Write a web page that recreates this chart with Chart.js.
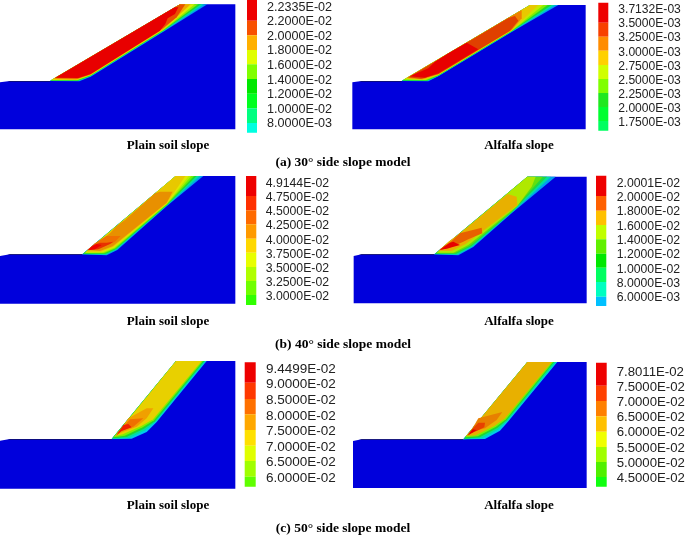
<!DOCTYPE html>
<html>
<head>
<meta charset="utf-8">
<script src="https://cdn.jsdelivr.net/npm/chart.js@4"></script>
<style>
  html, body { margin: 0; padding: 0; background: #fff; }
  #wrap { position: relative; width: 685px; height: 536px; overflow: hidden; }
  canvas { filter: blur(0.45px); }
</style>
</head>
<body>
<div id="wrap"><canvas id="slopes" width="685" height="536"></canvas></div>
<script>
// tick labels of the six colour bars
const a1Labels = ['2.2335E-02', '2.2000E-02', '2.0000E-02', '1.8000E-02', '1.6000E-02', '1.4000E-02', '1.2000E-02', '1.0000E-02', '8.0000E-03'];
const a2Labels = ['3.7132E-03', '3.5000E-03', '3.2500E-03', '3.0000E-03', '2.7500E-03', '2.5000E-03', '2.2500E-03', '2.0000E-03', '1.7500E-03'];
const b1Labels = ['4.9144E-02', '4.7500E-02', '4.5000E-02', '4.2500E-02', '4.0000E-02', '3.7500E-02', '3.5000E-02', '3.2500E-02', '3.0000E-02'];
const b2Labels = ['2.0001E-02', '2.0000E-02', '1.8000E-02', '1.6000E-02', '1.4000E-02', '1.2000E-02', '1.0000E-02', '8.0000E-03', '6.0000E-03'];
const c1Labels = ['9.4499E-02', '9.0000E-02', '8.5000E-02', '8.0000E-02', '7.5000E-02', '7.0000E-02', '6.5000E-02', '6.0000E-02'];
const c2Labels = ['7.8011E-02', '7.5000E-02', '7.0000E-02', '6.5000E-02', '6.0000E-02', '5.5000E-02', '5.0000E-02', '4.5000E-02'];

// colour bar band edges, in page pixels
const a1Edges = [0, 20.7, 35.3, 50, 64.3, 79, 93.7, 108.3, 123, 132.7];
const a2Edges = [2.7, 22.7, 36.7, 50.7, 65, 79, 93, 107, 121, 130.7];
const b1Edges = [176, 196, 210.3, 224.3, 238.7, 252.7, 267, 281, 295, 305];
const b2Edges = [175.7, 196, 210.7, 225, 239.3, 253.7, 267.7, 282, 296.7, 306];
const c1Edges = [362.3, 382.7, 399, 414.3, 430, 445.7, 461, 476.7, 486.7];
const c2Edges = [362.7, 385.7, 401, 416.3, 431.7, 447, 462, 477, 486.7];

const a1Ticks = [7.7, 22, 36.7, 51, 65.7, 80.3, 95, 109.3, 124];
const a2Ticks = [10, 24, 38, 52.3, 66.3, 80.7, 94.7, 108.7, 122.7];
const b1Ticks = [183.3, 197.7, 212, 225.7, 240.3, 254.3, 268.7, 283, 297];
const b2Ticks = [183.3, 197.7, 212, 226.3, 240.7, 255, 269.3, 283.7, 298];
const c1Ticks = [369.3, 384.3, 400, 416, 431.3, 447, 462.7, 478.7];
const c2Ticks = [372, 387, 402.3, 417.7, 432.7, 448, 463.3, 478.3];

const a1Bar = ['#ee0000', '#f85000', '#ffb000', '#e0ff00', '#80ff00', '#00e800', '#00ff20', '#00ff80', '#00ffe0'];
const a2Bar = ['#ee0000', '#f84000', '#ff8c00', '#ffd000', '#d0ff00', '#80ff00', '#20e820', '#00ff30', '#00ff60'];
const b1Bar = ['#ee0000', '#ff3000', '#ff6a00', '#ff9a00', '#ffd800', '#e8ff00', '#b0ff00', '#70ff00', '#30ff00'];
const b2Bar = ['#ee0000', '#ff6000', '#ffc000', '#c0ff00', '#60f000', '#00e800', '#00ff60', '#00ffc0', '#00c0ff'];
const c1Bar = ['#ee0000', '#ff3800', '#ff7000', '#ffa800', '#ffe000', '#e0ff00', '#a0ff00', '#60ff00'];
const c2Bar = ['#ee0000', '#ff4000', '#ff8000', '#ffc000', '#f0ff00', '#a0ff00', '#50f000', '#10ff10'];

// model outlines and contour regions, painted back to front (1 unit = 1/3 page pixel from the panel origin)
const a1Regions = [
  [0, 247, 30, 243, 150, 243, 540, 13, 706, 13, 706, 388, 0, 388],
  [30, 243, 150, 243, 150, 245, 22, 245],
  [150, 243, 238, 244, 272, 230, 490, 95, 622, 13, 540, 13],
  [150, 243, 236, 243, 272, 228.8, 490, 93.5, 612, 13, 540, 13],
  [150, 242, 234, 242, 272, 227.6, 490, 92, 603, 13, 540, 13],
  [152, 241, 232, 241, 272, 226.4, 490, 90.5, 594, 13, 540, 13],
  [155, 240, 230, 240, 272, 225.2, 490, 89, 584, 13, 540, 13],
  [158, 238, 228, 239, 272, 224, 490, 87.5, 572, 13, 540, 13],
  [163, 235, 232, 236, 272, 223, 490, 84, 530, 52, 556, 13, 540, 13],
  [166, 233, 235, 234, 272, 222, 480, 92, 496, 72, 503, 55, 525, 42, 535, 22, 524, 22]
];
const a1Fill = ['#0000dc', '#101060', '#00a0f0', '#00e0a0', '#20d830', '#90f000', '#e0e800', '#f0a800', '#e85000', '#e80000'];

const a2Regions = [
  [22, 247, 50, 243, 170, 243, 555, 15, 722, 15, 722, 388, 22, 388],
  [50, 243, 170, 243, 170, 245, 42, 245],
  [170, 243, 250, 244, 280, 229, 500, 96, 640, 15, 555, 15],
  [170, 243, 248, 243, 280, 228, 500, 95, 630, 15, 555, 15],
  [171, 242, 246, 242, 280, 227, 500, 94, 620, 15, 555, 15],
  [174, 240, 244, 241, 280, 226, 500, 93, 608, 15, 555, 15],
  [177, 238, 240, 240, 280, 225, 500, 92, 595, 15, 555, 15],
  [181, 236, 236, 239, 280, 224, 500, 91, 580, 15, 555, 15],
  [186, 234, 232, 238, 280, 223, 500, 90, 530, 55, 530, 30],
  [190, 232, 228, 236, 280, 222, 495, 92, 520, 62, 510, 48, 490, 54],
  [195, 229, 240, 233, 280, 220, 400, 148, 365, 128, 310, 160, 270, 185, 250, 205, 210, 222]
];
const a2Fill = ['#0000dc', '#101060', '#00a0f0', '#00e0a0', '#20d830', '#80f000', '#c8e800', '#e8c800', '#f08000', '#e04000', '#e80000'];

const b1Regions = [
  [0, 258, 30, 253, 247, 253, 527, 18, 706, 18, 706, 401, 0, 401],
  [30, 253, 247, 253, 247, 255, 22, 255],
  [247, 253, 320, 256, 352, 240, 500, 108.5, 610, 18, 527, 18],
  [247, 253, 318, 254, 350, 238.5, 500, 107, 600, 18, 527, 18],
  [249, 252, 316, 252, 348, 237, 500, 105.5, 590, 18, 527, 18],
  [252, 250, 313, 250, 346, 235.5, 500, 104, 582, 18, 527, 18],
  [255, 249, 310, 248, 344, 234, 500, 102.5, 574, 18, 527, 18],
  [257, 247, 306, 246.5, 342, 232.5, 500, 101, 566, 18, 527, 18],
  [259, 245, 303, 245, 340, 231, 500, 99.5, 556, 18, 527, 18],
  [262, 240, 300, 243, 338, 229, 500, 98, 518, 65, 480, 65, 465, 70, 375, 150, 350, 168, 330, 190, 300, 212],
  [265, 238, 300, 235, 345, 215, 362, 198, 320, 198, 300, 210, 285, 220],
  [262, 241, 295, 238, 330, 222, 340, 215, 320, 218, 300, 218, 280, 225],
  [265, 240, 285, 238, 305, 225, 290, 222, 275, 230]
];
const b1Fill = ['#0000dc', '#101060', '#00a0f0', '#00e0a0', '#20d830', '#70f000', '#b0f000', '#e0e800', '#e8c800', '#e89000', '#f07000', '#e83000', '#f00000'];

const b2Regions = [
  [26, 258, 50, 253, 268, 253, 547, 20, 725, 20, 725, 400, 26, 400],
  [50, 253, 268, 253, 268, 255, 42, 255],
  [268, 253, 340, 256, 385, 231, 500, 130, 632, 20, 547, 20],
  [268, 253, 337, 254, 383, 229.5, 500, 128.5, 618, 20, 547, 20],
  [270, 252, 333, 252, 380, 228, 500, 127, 606, 20, 547, 20],
  [272, 250, 329, 250, 376, 226.5, 500, 125, 594, 20, 547, 20],
  [275, 248, 325, 248, 370, 225, 517, 108, 560, 50, 572, 20, 547, 20],
  [280, 243, 320, 243, 362, 222, 517, 105, 515, 80, 488, 72, 345, 190, 310, 215],
  [285, 238, 310, 235, 355, 215, 370, 208, 412, 190, 410, 173, 345, 190, 320, 213],
  [283, 241, 310, 235, 345, 225, 325, 215, 315, 218, 300, 228]
];
const b2Fill = ['#0000dc', '#101060', '#00a0f0', '#00e0a0', '#20d840', '#60e010', '#b0e800', '#e8b000', '#e86000', '#e80000'];

const c1Regions = [
  [0, 272, 30, 267, 335, 267, 528, 33, 706, 33, 706, 416, 0, 416],
  [30, 267, 335, 267, 335, 269, 22, 269],
  [335, 267, 395, 266, 440, 246, 470, 216, 620, 33, 528, 33],
  [335, 267, 388, 264, 436, 241, 467, 215, 617, 33, 528, 33],
  [337, 265, 380, 261, 432, 236, 465, 214, 613, 33, 528, 33],
  [340, 262, 374, 257, 428, 232, 462, 211, 609, 33, 528, 33],
  [345, 258, 368, 253, 424, 228, 459, 208, 605, 33, 528, 33],
  [350, 255, 370, 245, 410, 230, 440, 205, 460, 175, 440, 175, 385, 205],
  [350, 250, 370, 240, 400, 230, 430, 205, 390, 208, 375, 225],
  [347, 258, 365, 243, 395, 232, 385, 222, 370, 225, 360, 240]
];
const c1Fill = ['#0000dc', '#101060', '#00c8f0', '#00e0a0', '#20d830', '#80f000', '#e8d000', '#f0a000', '#f07000', '#f02000'];

const c2Regions = [
  [24, 273, 50, 268, 355, 268, 547, 36, 725, 36, 725, 414, 24, 414],
  [50, 268, 355, 268, 355, 270, 42, 270],
  [355, 268, 420, 267, 465, 242, 490, 214, 637, 36, 547, 36],
  [355, 268, 412, 265, 461, 238, 487, 213, 634, 36, 547, 36],
  [357, 266, 404, 262, 457, 234, 485, 211, 628, 36, 547, 36],
  [360, 262, 398, 259, 453, 230, 483, 208, 624, 36, 547, 36],
  [363, 258, 392, 256, 449, 227, 480, 205, 620, 36, 547, 36],
  [378, 245, 420, 235, 455, 210, 472, 186, 400, 205, 385, 230],
  [370, 252, 395, 243, 418, 232, 420, 218, 400, 218, 385, 233],
  [367, 257, 385, 247, 395, 240, 383, 238]
];
const c2Fill = ['#0000dc', '#101060', '#00c8f0', '#00e0a0', '#20d830', '#80f000', '#e8b000', '#e88000', '#e84000', '#e80000'];

const panels = [
  { ox: 0, oy: 0, regions: a1Regions, fills: a1Fill, labels: a1Labels, edges: a1Edges, ticks: a1Ticks, bar: a1Bar, barX: [247, 257], textX: 267, size: 12.6 },
  { ox: 345, oy: 0, regions: a2Regions, fills: a2Fill, labels: a2Labels, edges: a2Edges, ticks: a2Ticks, bar: a2Bar, barX: [598.3, 608.3], textX: 618.3, size: 12.1 },
  { ox: 0, oy: 170, regions: b1Regions, fills: b1Fill, labels: b1Labels, edges: b1Edges, ticks: b1Ticks, bar: b1Bar, barX: [246, 256.3], textX: 265.7, size: 12.25 },
  { ox: 345, oy: 170, regions: b2Regions, fills: b2Fill, labels: b2Labels, edges: b2Edges, ticks: b2Ticks, bar: b2Bar, barX: [596, 606.3], textX: 616.7, size: 12.25 },
  { ox: 0, oy: 350, regions: c1Regions, fills: c1Fill, labels: c1Labels, edges: c1Edges, ticks: c1Ticks, bar: c1Bar, barX: [244.7, 255.7], textX: 266, size: 13.5 },
  { ox: 345, oy: 350, regions: c2Regions, fills: c2Fill, labels: c2Labels, edges: c2Edges, ticks: c2Ticks, bar: c2Bar, barX: [596, 606.7], textX: 616.7, size: 13.2 }
];

const slopeNames = ['Plain soil slope', 'Alfalfa slope'];
const slopeNameX = [168, 519];
const slopeNameY = [146, 322, 506];
const captions = ['(a) 30° side slope model', '(b) 40° side slope model', '(c) 50° side slope model'];
const captionY = [163, 345, 529];

function shapeDataset(points, color) {
  return {
    data: points,
    showLine: true,
    fill: 'shape',
    backgroundColor: color,
    borderWidth: 0,
    pointRadius: 0,
    tension: 0
  };
}

const datasets = [];
panels.forEach(p => {
  p.regions.forEach((r, i) => {
    const pts = [];
    for (let k = 0; k < r.length; k += 2) {
      pts.push({ x: p.ox + r[k] / 3, y: p.oy + r[k + 1] / 3 });
    }
    datasets.push(shapeDataset(pts, p.fills[i]));
  });
  p.bar.forEach((c, i) => {
    datasets.push(shapeDataset([
      { x: p.barX[0], y: p.edges[i] },
      { x: p.barX[1], y: p.edges[i] },
      { x: p.barX[1], y: p.edges[i + 1] },
      { x: p.barX[0], y: p.edges[i + 1] }
    ], c));
  });
});
// chart.js paints the first dataset last
datasets.reverse();

const textPlugin = {
  id: 'panelText',
  afterDatasetsDraw(chart) {
    const { ctx, scales } = chart;
    const px = v => scales.x.getPixelForValue(v);
    const py = v => scales.y.getPixelForValue(v);
    ctx.save();
    ctx.textBaseline = 'middle';
    ctx.textAlign = 'left';
    ctx.fillStyle = '#222';
    panels.forEach(p => {
      ctx.font = p.size + 'px "Liberation Sans"';
      p.labels.forEach((t, i) => ctx.fillText(t, px(p.textX), py(p.ticks[i])));
    });
    ctx.textAlign = 'center';
    ctx.fillStyle = '#000';
    ctx.font = 'bold 13px "Liberation Serif"';
    slopeNameY.forEach(y => {
      slopeNames.forEach((t, i) => ctx.fillText(t, px(slopeNameX[i]), py(y)));
    });
    ctx.font = 'bold 13.5px "Liberation Serif"';
    captions.forEach((t, i) => ctx.fillText(t, px(343), py(captionY[i])));
    ctx.restore();
  }
};

new Chart(document.getElementById('slopes').getContext('2d'), {
  type: 'scatter',
  data: { datasets },
  options: {
    responsive: false,
    animation: false,
    layout: { padding: 0 },
    plugins: { legend: { display: false }, tooltip: { enabled: false } },
    scales: {
      x: { type: 'linear', display: false, min: 0, max: 685 },
      y: { type: 'linear', display: false, min: 0, max: 536, reverse: true }
    }
  },
  plugins: [textPlugin]
});
</script>
</body>
</html>
